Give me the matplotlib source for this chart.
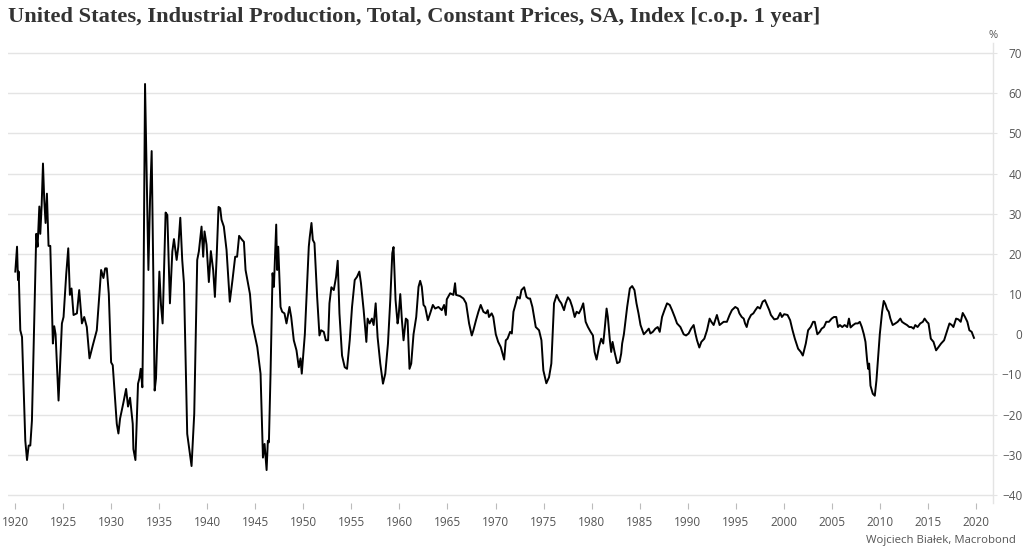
import matplotlib
matplotlib.use("Agg")
import matplotlib.pyplot as plt

# US industrial production, % change over 1 year (turning points)
dates = [
    1920.03, 1920.21, 1920.31, 1920.38, 1920.55, 1920.73, 1921.07, 1921.25, 1921.42, 1921.59,
    1921.76, 1922.11, 1922.21, 1922.35, 1922.53, 1922.63, 1922.77, 1922.91, 1923.04, 1923.18,
    1923.32, 1923.49, 1923.67, 1923.94, 1924.08, 1924.22, 1924.53, 1924.88, 1925.05, 1925.33,
    1925.54, 1925.71, 1925.88, 1926.09, 1926.44, 1926.68, 1926.96, 1927.20, 1927.47, 1927.75,
    1928.10, 1928.51, 1928.96, 1929.20, 1929.38, 1929.55, 1929.76, 1930.00, 1930.17, 1930.59,
    1930.76, 1930.93, 1931.28, 1931.56, 1931.76, 1931.97, 1932.25, 1932.32, 1932.53, 1932.80,
    1932.94, 1933.08, 1933.25, 1933.36, 1933.53, 1933.70, 1933.88, 1934.05, 1934.22, 1934.39,
    1934.53, 1934.67, 1935.02, 1935.19, 1935.36, 1935.67, 1935.85, 1936.12, 1936.23, 1936.37,
    1936.54, 1936.82, 1936.99, 1937.20, 1937.40, 1937.58, 1937.92, 1938.37, 1938.65, 1938.96,
    1939.13, 1939.41, 1939.58, 1939.72, 1939.93, 1940.17, 1940.38, 1940.62, 1940.80, 1940.97,
    1941.18, 1941.35, 1941.49, 1941.73, 1942.01, 1942.35, 1942.63, 1942.91, 1943.11, 1943.32,
    1943.63, 1943.82, 1943.99, 1944.45, 1944.69, 1944.93, 1945.21, 1945.55, 1945.80, 1945.97,
    1946.18, 1946.31, 1946.42, 1946.59, 1946.80, 1946.94, 1947.18, 1947.28, 1947.39, 1947.63,
    1947.80, 1948.04, 1948.25, 1948.56, 1948.74, 1949.01, 1949.29, 1949.53, 1949.71, 1949.84,
    1950.16, 1950.57, 1950.67, 1950.85, 1950.99, 1951.16, 1951.44, 1951.68, 1951.85, 1952.13,
    1952.34, 1952.58, 1952.72, 1952.92, 1953.17, 1953.41, 1953.58, 1953.76, 1954.03, 1954.31,
    1954.55, 1954.83, 1955.07, 1955.35, 1955.59, 1955.83, 1956.00, 1956.28, 1956.56, 1956.69,
    1956.90, 1957.14, 1957.32, 1957.53, 1957.73, 1958.01, 1958.29, 1958.53, 1958.81, 1959.05,
    1959.26, 1959.39, 1959.60, 1959.81, 1959.91, 1960.09, 1960.26, 1960.43, 1960.67, 1960.85,
    1961.05, 1961.23, 1961.47, 1961.75, 1961.99, 1962.16, 1962.33, 1962.51, 1962.68, 1962.96,
    1963.20, 1963.48, 1963.72, 1964.06, 1964.41, 1964.65, 1964.83, 1964.93, 1965.28, 1965.62,
    1965.79, 1965.90, 1966.31, 1966.66, 1966.94, 1967.25, 1967.53, 1967.70, 1967.97, 1968.22,
    1968.46, 1968.74, 1969.01, 1969.19, 1969.32, 1969.60, 1969.77, 1970.03, 1970.28, 1970.55,
    1970.90, 1971.07, 1971.25, 1971.52, 1971.70, 1971.87, 1972.11, 1972.28, 1972.53, 1972.70,
    1972.98, 1973.22, 1973.43, 1973.60, 1973.84, 1974.19, 1974.53, 1974.78, 1974.98, 1975.29,
    1975.57, 1975.81, 1976.09, 1976.37, 1976.61, 1976.85, 1977.13, 1977.30, 1977.54, 1977.75,
    1977.99, 1978.24, 1978.44, 1978.68, 1978.93, 1979.13, 1979.38, 1979.62, 1979.90, 1980.14,
    1980.31, 1980.52, 1980.76, 1981.00, 1981.21, 1981.35, 1981.56, 1981.69, 1981.90, 1982.04,
    1982.18, 1982.39, 1982.66, 1982.91, 1983.08, 1983.18, 1983.36, 1983.70, 1983.98, 1984.22,
    1984.46, 1984.67, 1984.88, 1985.09, 1985.43, 1985.67, 1985.95, 1986.12, 1986.37, 1986.64,
    1986.88, 1987.09, 1987.33, 1987.58, 1987.85, 1988.13, 1988.37, 1988.65, 1988.89, 1989.24,
    1989.58, 1989.83, 1990.10, 1990.35, 1990.62, 1990.80, 1990.97, 1991.21, 1991.42, 1991.73,
    1992.01, 1992.28, 1992.46, 1992.70, 1993.04, 1993.32, 1993.74, 1994.08, 1994.36, 1994.60,
    1994.95, 1995.21, 1995.38, 1995.62, 1995.83, 1995.97, 1996.14, 1996.31, 1996.59, 1996.83,
    1997.04, 1997.28, 1997.53, 1997.80, 1998.04, 1998.25, 1998.49, 1998.66, 1999.01, 1999.35,
    1999.63, 1999.80, 2000.04, 2000.39, 2000.66, 2000.91, 2001.15, 2001.49, 2001.77, 2001.98,
    2002.29, 2002.53, 2002.80, 2003.05, 2003.22, 2003.49, 2003.74, 2003.94, 2004.18, 2004.42,
    2004.70, 2004.98, 2005.22, 2005.46, 2005.64, 2005.84, 2006.08, 2006.33, 2006.60, 2006.78,
    2006.95, 2007.22, 2007.46, 2007.71, 2007.91, 2008.12, 2008.33, 2008.50, 2008.67, 2008.78,
    2008.88, 2009.02, 2009.26, 2009.47, 2009.64, 2009.78, 2009.99, 2010.23, 2010.40, 2010.57,
    2010.75, 2010.92, 2011.09, 2011.33, 2011.61, 2011.85, 2012.13, 2012.30, 2012.54, 2012.82,
    2013.06, 2013.27, 2013.51, 2013.68, 2013.92, 2014.20, 2014.47, 2014.65, 2014.89, 2015.06,
    2015.30, 2015.58, 2015.85, 2016.10, 2016.37, 2016.68, 2016.96, 2017.24, 2017.48, 2017.65,
    2017.93, 2018.17, 2018.41, 2018.62, 2018.86, 2019.10, 2019.31, 2019.55, 2019.79,
]
yoy_pct = [
    15.6, 21.8, 13.5, 15.6, 1.0, -0.7, -26.5, -31.3, -27.7, -27.7,
    -21.5, 15.0, 25.0, 21.8, 31.8, 25.0, 32.0, 42.5, 33.5, 27.7,
    35.0, 22.0, 22.0, -2.3, 2.0, 0.0, -16.5, 2.7, 4.3, 15.0,
    21.4, 9.8, 11.4, 4.8, 5.2, 11.0, 2.7, 4.3, 1.8, -6.0,
    -2.7, 1.0, 16.0, 14.0, 16.4, 16.4, 10.0, -7.0, -7.7, -22.3,
    -24.7, -21.0, -17.0, -13.6, -18.0, -15.8, -22.3, -28.6, -31.3, -12.3,
    -11.0, -8.6, -13.2, 6.8, 62.3, 40.0, 16.0, 33.5, 45.6, 15.0,
    -14.0, -11.0, 15.6, 7.3, 2.7, 30.3, 29.7, 7.7, 13.5, 20.6,
    23.7, 18.5, 21.8, 29.0, 18.5, 12.7, -24.8, -32.8, -19.8, 18.5,
    20.6, 26.8, 19.3, 25.6, 22.3, 13.0, 20.7, 16.0, 9.3, 18.5,
    31.7, 31.4, 28.5, 26.8, 21.0, 8.1, 13.5, 19.3, 19.3, 24.5,
    23.5, 23.0, 16.0, 10.0, 2.7, 0.0, -3.2, -9.8, -30.7, -27.3,
    -33.8, -26.5, -26.9, -9.8, 15.2, 11.8, 27.3, 16.0, 21.8, 6.8,
    5.6, 5.2, 2.7, 6.8, 4.3, -1.5, -4.0, -8.2, -6.0, -9.8,
    0.0, 21.8, 24.2, 27.7, 23.5, 22.7, 9.3, -0.3, 1.0, 0.6,
    -1.5, -1.5, 7.7, 11.7, 11.0, 14.3, 18.3, 5.2, -5.3, -8.2,
    -8.6, -1.5, 6.8, 13.5, 14.3, 15.6, 12.7, 6.0, -1.9, 3.9,
    2.7, 3.9, 2.3, 7.7, -0.7, -7.3, -12.3, -9.8, -2.3, 8.5,
    20.2, 21.7, 8.5, 2.7, 4.3, 10.0, 3.5, -1.5, 3.9, 3.5,
    -8.6, -7.3, 0.0, 4.3, 11.8, 13.3, 11.8, 7.3, 6.8, 3.5,
    5.2, 7.3, 6.4, 6.8, 6.0, 7.3, 4.8, 8.7, 10.2, 9.8,
    12.7, 9.8, 9.5, 8.9, 7.7, 2.7, -0.3, 1.0, 3.5, 5.6,
    7.3, 5.6, 5.2, 6.0, 4.3, 5.2, 4.3, 0.0, -1.9, -3.2,
    -6.3, -1.5, -1.1, 0.6, 0.2, 5.6, 7.7, 9.3, 8.9, 11.0,
    11.7, 9.3, 8.9, 8.9, 6.8, 1.8, 1.0, -1.5, -9.0, -12.2,
    -10.7, -7.3, 7.7, 9.8, 8.5, 7.7, 6.0, 7.7, 9.2, 8.5,
    6.8, 4.3, 5.6, 5.2, 6.4, 7.7, 3.1, 1.8, 0.6, -0.3,
    -4.4, -6.3, -3.2, -1.1, -2.3, 1.0, 6.4, 4.3, -1.5, -4.4,
    -1.9, -4.4, -7.2, -6.9, -4.8, -2.3, 0.0, 6.8, 11.4, 12.0,
    11.0, 7.7, 5.2, 2.3, 0.0, 0.6, 1.4, 0.2, 0.6, 1.4,
    1.8, 0.6, 4.3, 6.0, 7.7, 7.3, 6.0, 4.3, 2.7, 1.8,
    0.0, -0.3, 0.2, 1.4, 2.3, 0.2, -1.5, -3.3, -1.9, -1.1,
    1.0, 3.9, 3.1, 2.3, 4.8, 2.3, 3.1, 3.1, 4.8, 6.0,
    6.8, 6.4, 5.2, 4.3, 3.9, 2.7, 1.8, 3.5, 4.8, 5.2,
    6.0, 6.8, 6.4, 8.1, 8.5, 7.3, 6.0, 4.8, 3.7, 3.9,
    5.3, 4.3, 5.0, 4.8, 3.5, 1.0, -1.1, -3.6, -4.4, -5.3,
    -2.3, 1.0, 1.8, 3.1, 3.1, 0.0, 0.6, 1.4, 1.8, 3.1,
    3.1, 3.9, 4.3, 4.3, 1.8, 2.3, 1.8, 2.3, 1.8, 3.9,
    1.7, 2.3, 2.7, 2.7, 3.1, 1.8, 0.0, -1.9, -6.5, -8.6,
    -7.3, -12.8, -14.8, -15.3, -11.5, -6.9, 0.0, 5.6, 8.3, 7.5,
    6.2, 5.6, 3.9, 2.3, 2.7, 3.1, 3.9, 3.1, 2.7, 2.3,
    1.8, 1.8, 1.4, 2.3, 1.8, 2.7, 3.1, 3.9, 3.1, 2.7,
    -1.1, -1.9, -4.0, -3.2, -2.3, -1.5, 0.6, 2.7, 2.3, 1.8,
    3.9, 3.7, 3.1, 5.3, 4.3, 3.1, 1.0, 0.6, -0.9,
]

x_ticks = list(range(1920, 2021, 5))
y_ticks = list(range(-40, 71, 10))

TITLE = "United States, Industrial Production, Total, Constant Prices, SA, Index [c.o.p. 1 year]"
SOURCE = "Wojciech Białek, Macrobond"

GRID = "#e4e4e4"
TEXT = "#555555"


def plot_industrial_production(output_path: str):
    """Draws the year-over-year line with a right hand value axis."""
    fig = plt.figure(figsize=(10.24, 5.54), dpi=100)
    ax = fig.add_axes([8 / 1024, 1 - 503 / 554, 985 / 1024, 460 / 554])

    ax.plot(dates, yoy_pct, color="black", linewidth=1.4, solid_joinstyle="round")

    ax.set_xlim(1919.27, 2021.77)
    ax.set_ylim(-42, 72.5)
    ax.set_xticks(x_ticks)
    ax.set_yticks(y_ticks)
    ax.yaxis.tick_right()
    ax.grid(axis="y", color=GRID, linewidth=1.0)
    ax.set_axisbelow(True)

    for side in ["top", "left", "bottom"]:
        ax.spines[side].set_visible(False)
    ax.spines["right"].set_color(GRID)
    ax.spines["right"].set_linewidth(1.0)

    ax.tick_params(axis="x", length=4, color="#bbbbbb", labelsize=8.5,
                   labelcolor=TEXT, pad=5)
    ax.tick_params(axis="y", length=3, color=GRID, labelsize=8.5,
                   labelcolor=TEXT, pad=18)
    for lab in ax.get_xticklabels() + ax.get_yticklabels():
        lab.set_fontfamily("Open Sans")
    for lab in ax.get_yticklabels():
        lab.set_horizontalalignment("right")

    fig.text(8 / 1024, 1 - 17 / 554, TITLE, fontsize=16.1, fontweight="bold",
             family="Liberation Serif", color="#333333", va="center", ha="left")
    fig.text(993 / 1024, 1 - 35 / 554, "%", fontsize=8, family="Open Sans",
             color=TEXT, va="center", ha="center")
    fig.text(1016 / 1024, 1 - 540 / 554, SOURCE, fontsize=8.2, family="Open Sans",
             color=TEXT, va="center", ha="right")

    fig.savefig(output_path, dpi=100)
    plt.close(fig)


if __name__ == "__main__":
    assert len(dates) == len(yoy_pct)
    plot_industrial_production("out.png")
